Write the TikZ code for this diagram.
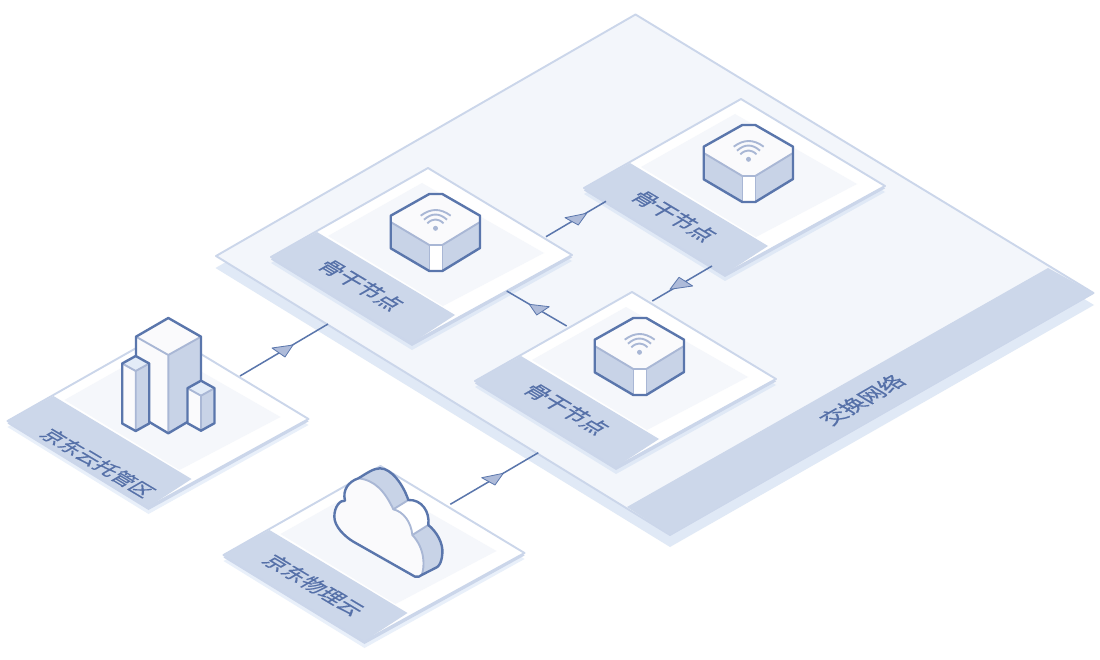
\documentclass[tikz,border=0pt]{standalone}
\usepackage{fontspec}
\newfontfamily\cjk[FakeBold=0.5]{Noto Sans CJK SC}
\definecolor{edgeblue}{HTML}{CBD6EA}
\definecolor{bandblue}{HTML}{CCD7EA}
\definecolor{shadeblue}{HTML}{E0E9F6}
\definecolor{shadelight}{HTML}{E9F0FA}
\definecolor{facepale}{HTML}{F3F6FB}
\definecolor{innerpale}{HTML}{F5F7FB}
\definecolor{ink}{HTML}{5A76AC}
\definecolor{softink}{HTML}{A9B7D5}
\definecolor{sidefill}{HTML}{C8D3E7}
\definecolor{topfill}{HTML}{FAFAFC}
\definecolor{roofcap}{HTML}{E3ECF8}
\definecolor{headfill}{HTML}{AEBBD9}
\definecolor{labelink}{HTML}{5570A8}
\tikzset{
  x=1pt,y=-1pt,
  shell/.style={draw=ink,line width=2.4pt,line join=round},
  crease/.style={draw=softink,line width=1.9pt,line join=round},
  link/.style={draw=ink,line width=1.5pt},
  headtri/.style={draw=ink,fill=headfill,line width=.8pt,line join=round},
  downlabel/.style={shift={#1},cm={.858,-.513,.866,.5,(0,0)},transform shape,
     inner sep=0pt,text=labelink},
  uplabel/.style={shift={#1},cm={.866,.5,-.858,.513,(0,0)},transform shape,
     inner sep=0pt,text=labelink},
  tilelabel/.style={font=\cjk\fontsize{#1}{#1}\selectfont},
  tileplate/.pic={
    \fill[#1] (0,6)--(144,93)--(-16,182)--(-157,95)--cycle;
    \fill[edgeblue] (0,2.5)--(144,89.5)--(-16,178)--(-157,91.5)--cycle;
    \filldraw[fill=white,draw=edgeblue,line width=1.9pt,line join=round] (0,0)--(144,87)--(-16,175)--(-157,89)--cycle;
    \fill[innerpale] (-6,15)--(116,85)--(15,138)--(-100,68)--cycle;
    \fill[bandblue] (-111,64)--(27,147)--(-16,175)--(-157,89)--cycle;
  },
  router/.pic={
    \fill[topfill] (1.3,27)--(14.3,27)--(52,48.7)--(52,55)--(14.3,78)--(1.3,78)--(-37.3,55)--(-37.3,48.7)--cycle;
    \fill[sidefill] (-37.3,55)--(1.3,78)--(1.3,104)--(-37.3,81.3)--cycle;
    \fill[sidefill] (52,55)--(14.3,78)--(14.3,104)--(52,81)--cycle;
    \fill[white] (1.3,78)--(14.3,78)--(14.3,104)--(1.3,104)--cycle;
    \draw[crease] (-37.3,55)--(1.3,78)--(14.3,78)--(52,55);
    \draw[crease,line width=1.2pt] (1.3,78)--(1.3,104) (14.3,78)--(14.3,104);
    \draw[crease] (-7.3,48.7) .. controls (2.96,41.1) and (12.4,41.1) .. (22.7,48.7);
    \draw[crease] (-4,52.7) .. controls (3.7,45.8) and (11.3,45.8) .. (19,52.7);
    \draw[crease] (-.7,56.3) .. controls (4.8,51.2) and (10.2,51.2) .. (15.5,56.3);
    \fill[softink] (7.5,61.3) circle[radius=2.5];
    \draw[shell] (1.3,27)--(14.3,27)--(52,48.7)--(52,81)--(14.3,104)--(1.3,104)--(-37.3,81.3)--(-37.3,48.7)--cycle;
  },
  smalltower/.pic={
    \fill[roofcap] (0,0)--(13.5,7.5)--(0,15)--(-13.5,7.5)--cycle;
    \fill[topfill] (-13.5,7.5)--(0,15)--(0,#1+15)--(-13.5,#1+7.5)--cycle;
    \fill[sidefill] (13.5,7.5)--(0,15)--(0,#1+15)--(13.5,#1+7.5)--cycle;
    \draw[crease] (-13.5,7.5)--(0,15)--(13.5,7.5) (0,15)--(0,#1+15);
    \draw[shell] (0,0)--(13.5,7.5)--(13.5,#1+7.5)--(0,#1+15)--(-13.5,#1+7.5)--(-13.5,7.5)--cycle;
  }
}
\begin{document}
\begin{tikzpicture}
\useasboundingbox (0,0) rectangle (1100,660);
\fill[white] (0,0) rectangle (1100,660);
% exchange platform
\fill[shadeblue] (635,26)--(1094,305)--(670,547)--(215.5,268)--cycle;
\filldraw[fill=facepale,draw=edgeblue,line width=1.9pt,line join=round] (635.5,14.5)--(1093.5,293)--(670,535)--(216,256)--cycle;
\fill[bandblue] (1048,268)--(1093.5,293)--(670,535)--(627,507)--cycle;
% tiles
\pic at (428,168) {tileplate=shadeblue};
\pic at (741,99) {tileplate=shadeblue};
\pic at (632,292) {tileplate=shadeblue};
\pic at (164.5,332) {tileplate=shadelight};
\pic at (380.5,466) {tileplate=shadelight};
\pic at (428,167) {router};
\pic at (741,98) {router};
\pic at (632,291) {router};
% building
\fill[topfill] (168.3,318)--(201,336.7)--(168.3,355)--(136,336.7)--cycle;
\fill[topfill] (136,336.7)--(168.3,355)--(168.3,433.3)--(136,414)--cycle;
\fill[sidefill] (201,336.7)--(168.3,355)--(168.3,433.3)--(201,414)--cycle;
\draw[crease] (136,336.7)--(168.3,355)--(201,336.7) (168.3,355)--(168.3,433.3);
\draw[shell] (168.3,318)--(201,336.7)--(201,414)--(168.3,433.3)--(136,414)--(136,336.7)--cycle;
\pic at (135.7,356) {smalltower=60};
\pic at (201,380.7) {smalltower=35};
% cloud
\begin{scope}[shift={(325,460)},scale=.33333]
  \fill[sidefill] (100,55) .. controls (125,40) and (145,25) .. (165,25) .. controls (200,25) and (235,75) .. (250,120) -- (205,148) .. controls (180,95) and (150,60) .. (100,55) -- cycle;
  \fill[white] (250,120) .. controls (290,118) and (315,155) .. (310,195) -- (262,225) .. controls (258,185) and (235,155) .. (205,148) -- cycle;
  \fill[sidefill] (310,195) .. controls (335,215) and (355,250) .. (352,280) .. controls (350,310) and (340,320) .. (335,322) -- (290,345) .. controls (300,320) and (300,265) .. (262,225) -- cycle;
  \fill[topfill] (270,350) -- (85,245) .. controls (60,230) and (28,200) .. (28,170) .. controls (28,140) and (45,120) .. (60,122) .. controls (52,90) and (70,65) .. (100,55) .. controls (150,60) and (180,95) .. (205,148) .. controls (235,155) and (258,185) .. (262,225) .. controls (300,265) and (300,320) .. (290,345) .. controls (285,350) and (278,352) .. (270,350) -- cycle;
  \draw[crease] (100,55) .. controls (150,60) and (180,95) .. (205,148) .. controls (235,155) and (258,185) .. (262,225) .. controls (300,265) and (300,320) .. (290,345);
  \draw[crease] (205,148) -- (250,120) (262,225) -- (310,195);
  \draw[shell] (270,350) -- (85,245) .. controls (60,230) and (28,200) .. (28,170) .. controls (28,140) and (45,120) .. (60,122) .. controls (52,90) and (70,65) .. (100,55) .. controls (125,40) and (145,25) .. (165,25) .. controls (200,25) and (235,75) .. (250,120) .. controls (290,118) and (315,155) .. (310,195) .. controls (335,215) and (355,250) .. (352,280) .. controls (350,310) and (340,320) .. (335,322) -- (290,345) .. controls (285,350) and (278,352) .. (270,350) -- cycle;
\end{scope}
% connectors
\coordinate (cAs) at (240,376); \coordinate (cAe) at (328,324);
\coordinate (cAt) at (293,345); \coordinate (cAa) at (272,348); \coordinate (cAb) at (285,357);
\coordinate (cBs) at (546,236.7); \coordinate (cBe) at (606,201.3);
\coordinate (cBt) at (586.7,213.3); \coordinate (cBa) at (565,217.7); \coordinate (cBb) at (578.3,225);
\coordinate (cCs) at (712,266); \coordinate (cCe) at (652.3,301);
\coordinate (cCt) at (670,289.3); \coordinate (cCa) at (679,277.3); \coordinate (cCb) at (692.7,286);
\coordinate (cDs) at (566.7,326); \coordinate (cDe) at (506.7,291);
\coordinate (cDt) at (529.3,304.3); \coordinate (cDa) at (549.3,306.7); \coordinate (cDb) at (536.7,315);
\coordinate (cEs) at (450.3,504.3); \coordinate (cEe) at (538.3,452.7);
\coordinate (cEt) at (503.3,473.3); \coordinate (cEa) at (481.7,477.7); \coordinate (cEb) at (495,485);
\foreach \k in {A,B,C,D,E}{
  \draw[link] (c\k s) -- (c\k e);
  \draw[headtri] (c\k t) -- (c\k a) -- (c\k b) -- cycle;
}
% labels
\node[downlabel={(361,285)},tilelabel=22] (backboneA) {骨干节点};
\node[downlabel={(674,216)},tilelabel=22] (backboneB) {骨干节点};
\node[downlabel={(566.5,409)},tilelabel=22] (backboneC) {骨干节点};
\node[downlabel={(98,463)},tilelabel=20.5] (hosting) {京东云托管区};
\node[downlabel={(314,585)},tilelabel=21.5] (physcloud) {京东物理云};
\node[uplabel={(862,400)},tilelabel=22] (exchange) {交换网络};
\end{tikzpicture}
\end{document}
